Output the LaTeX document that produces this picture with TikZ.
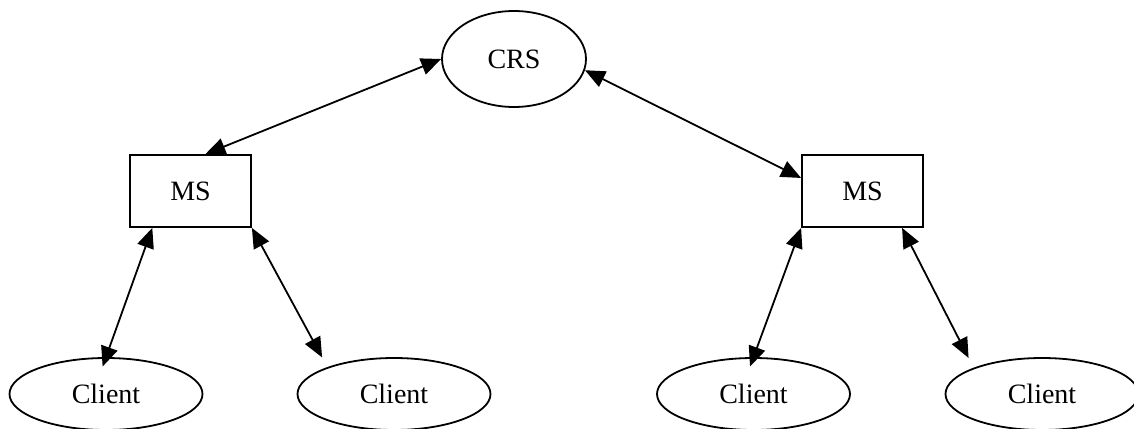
\documentclass[tikz,border=0pt]{standalone}
\usepackage{fontspec}
\setmainfont{Liberation Serif}
\usetikzlibrary{positioning,arrows.meta,shapes.geometric}
\tikzset{
  hub/.style={ellipse, draw, line width=0.9pt, minimum width=72pt,
              minimum height=48pt, inner sep=0pt,
              font=\fontsize{14}{16}\selectfont},
  srv/.style={rectangle, draw, line width=0.9pt, minimum width=60.5pt,
              minimum height=36pt, inner sep=0pt,
              font=\fontsize{14}{16}\selectfont},
  cli/.style={hub, minimum width=96.5pt, minimum height=36pt},
  duplex/.style={{Triangle[length=10pt,width=8.5pt]}-{Triangle[length=10pt,width=8.5pt]},
                 line width=0.9pt},
}

\begin{document}
\begin{tikzpicture}[x=0.5pt, y=-0.5pt, on grid]
  \useasboundingbox (0,0) rectangle (1134,428);
  \node[hub] (crs) at (514,59) {CRS};
  \node[srv, below left=66pt and 161.75pt of crs]  (msL) {MS};
  \node[srv, below right=66pt and 174.25pt of crs] (msR) {MS};
  \node[cli, below left=101.5pt and 42.25pt of msL]  (cl1) {Client};
  \node[cli, below right=101.5pt and 101.75pt of msL] (cl2) {Client};
  \node[cli, below left=101.5pt and 54.5pt of msR]   (cl3) {Client};
  \node[cli, below right=101.5pt and 89.75pt of msR] (cl4) {Client};
  \draw[duplex] (crs.west) -- (msL.68);
  \draw[duplex] (crs.-9) -- (msR.168);
  \draw[duplex, shorten >=-5pt] (msL.-136) -- (cl1.north);
  \draw[duplex, shorten >=5.5pt] (msL.south east) -- (cl2.158.5);
  \draw[duplex, shorten >=-5pt] (msR.-149) -- (cl3.north);
  \draw[duplex, shorten >=5.5pt] (msR.-43) -- (cl4.159);
\end{tikzpicture}
\end{document}
